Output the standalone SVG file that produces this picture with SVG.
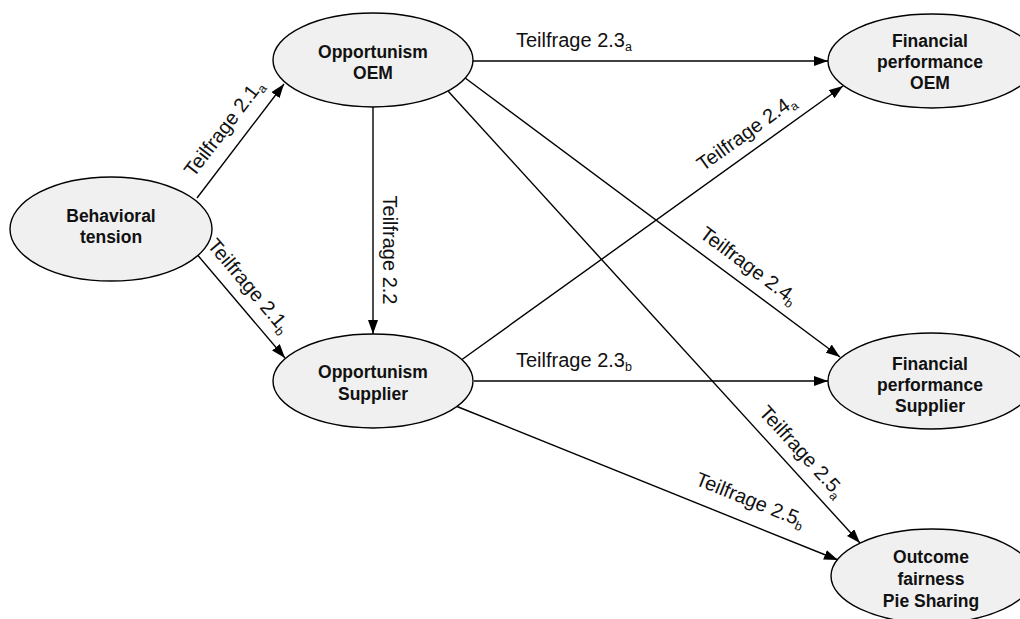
<svg xmlns="http://www.w3.org/2000/svg" width="1020" height="619" viewBox="0 0 1020 619">
<defs>
<style>
.node ellipse{fill:#f0f0f0;stroke:#000;stroke-width:1.4}
.node text{font-family:"Liberation Sans",Arial,sans-serif;font-weight:bold;font-size:17.5px;fill:#111;text-anchor:middle}
.edge{stroke:#000;stroke-width:1.4;fill:none;marker-end:url(#arr)}
.lbl{font-family:"Liberation Sans",Arial,sans-serif;font-size:20px;fill:#111}
.sub{font-size:12.5px}
</style>
<marker id="arr" viewBox="0 0 14 10" refX="14" refY="5" markerWidth="14" markerHeight="10" markerUnits="userSpaceOnUse" orient="auto">
<path d="M0,0 L14,5 L0,10 z" fill="#000"/>
</marker>
</defs>
<rect width="1020" height="619" fill="#fff"/>
<g id="connectors">
<line class="edge" x1="197" y1="198" x2="284" y2="84"/>
<line class="edge" x1="195" y1="252" x2="285" y2="358"/>
<line class="edge" x1="373" y1="107" x2="373" y2="334"/>
<line class="edge" x1="473" y1="61" x2="828" y2="61"/>
<line class="edge" x1="474" y1="381" x2="828" y2="381"/>
<line class="edge" x1="462" y1="359.5" x2="843" y2="86"/>
<line class="edge" x1="465.5" y1="78.3" x2="840" y2="357"/>
<line class="edge" x1="448" y1="91" x2="860" y2="543"/>
<line class="edge" x1="457" y1="406.5" x2="838" y2="560"/>
<text class="lbl" text-anchor="middle" transform="translate(229,132) rotate(-52.6)">Teilfrage 2.1<tspan class="sub" dy="4">a</tspan></text>
<text class="lbl" text-anchor="middle" transform="translate(244,290) rotate(49.7)">Teilfrage 2.1<tspan class="sub" dy="4">b</tspan></text>
<text class="lbl" text-anchor="middle" transform="translate(383,250) rotate(90)">Teilfrage 2.2</text>
<text class="lbl" x="516" y="47">Teilfrage 2.3<tspan class="sub" dy="4">a</tspan></text>
<text class="lbl" x="516" y="367">Teilfrage 2.3<tspan class="sub" dy="4">b</tspan></text>
<text class="lbl" text-anchor="middle" transform="translate(750,138) rotate(-35.7)">Teilfrage 2.4<tspan class="sub" dy="4">a</tspan></text>
<text class="lbl" text-anchor="middle" transform="translate(745,271) rotate(36.6)">Teilfrage 2.4<tspan class="sub" dy="4">b</tspan></text>
<text class="lbl" text-anchor="middle" transform="translate(797,456) rotate(47.6)">Teilfrage 2.5<tspan class="sub" dy="4">a</tspan></text>
<text class="lbl" text-anchor="middle" transform="translate(748,506) rotate(21.9)">Teilfrage 2.5<tspan class="sub" dy="4">b</tspan></text>
</g>
<g id="behavioral-tension" class="node">
<ellipse cx="111" cy="229" rx="101" ry="52"/>
<text x="111" y="222">Behavioral</text>
<text x="111" y="243">tension</text>
</g>
<g id="opportunism-oem" class="node">
<ellipse cx="373" cy="60" rx="100" ry="47"/>
<text x="373" y="58">Opportunism</text>
<text x="373" y="79">OEM</text>
</g>
<g id="opportunism-supplier" class="node">
<ellipse cx="373" cy="381" rx="100" ry="47"/>
<text x="373" y="378">Opportunism</text>
<text x="373" y="400">Supplier</text>
</g>
<g id="financial-oem" class="node">
<ellipse cx="932" cy="61" rx="104" ry="47"/>
<text x="930" y="47">Financial</text>
<text x="930" y="68">performance</text>
<text x="930" y="89">OEM</text>
</g>
<g id="financial-supplier" class="node">
<ellipse cx="931" cy="381" rx="103" ry="48"/>
<text x="930" y="370">Financial</text>
<text x="930" y="391">performance</text>
<text x="930" y="412">Supplier</text>
</g>
<g id="outcome-fairness" class="node">
<ellipse cx="932" cy="576" rx="101" ry="47"/>
<text x="931" y="563">Outcome</text>
<text x="931" y="585">fairness</text>
<text x="931" y="607">Pie Sharing</text>
</g>
</svg>
